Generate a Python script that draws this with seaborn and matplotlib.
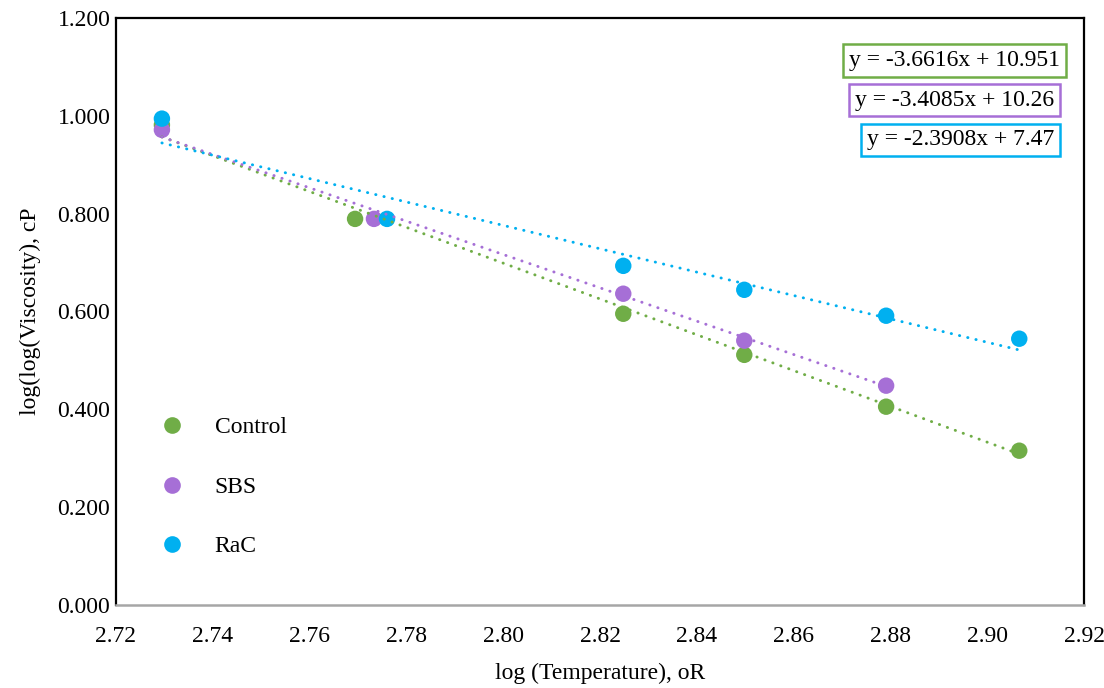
import numpy as np
import pandas as pd
import seaborn as sns
import matplotlib
matplotlib.use("Agg")
import matplotlib.pyplot as plt
from matplotlib.ticker import FormatStrFormatter, MultipleLocator

# Measured data: log10 of absolute temperature (°R) vs log(log(viscosity))
control_x = [2.7295, 2.7694, 2.8248, 2.8498, 2.8791, 2.9066]
control_y = [0.981, 0.789, 0.595, 0.511, 0.405, 0.315]

sbs_x = [2.7295, 2.7733, 2.8248, 2.8498, 2.8791]
sbs_y = [0.971, 0.789, 0.636, 0.540, 0.448]

rac_x = [2.7295, 2.7760, 2.8248, 2.8498, 2.8791, 2.9066]
rac_y = [0.994, 0.789, 0.693, 0.644, 0.591, 0.544]

series_names = ["Control", "SBS", "RaC"]
# Linear trendline coefficients (y = slope * x + intercept)
slopes = [-3.6616, -3.4085, -2.3908]
intercepts = [10.951, 10.26, 7.47]
equation_labels = ["y = -3.6616x + 10.951", "y = -3.4085x + 10.26", "y = -2.3908x + 7.47"]

colors = ["#70AD47", "#A66FD6", "#00B0F0"]

df = pd.concat([
    pd.DataFrame({"x": control_x, "y": control_y, "series": "Control"}),
    pd.DataFrame({"x": sbs_x, "y": sbs_y, "series": "SBS"}),
    pd.DataFrame({"x": rac_x, "y": rac_y, "series": "RaC"}),
], ignore_index=True)

sns.set_theme(style="white")
plt.rcParams["font.family"] = ["Liberation Serif", "DejaVu Serif"]
plt.rcParams["text.color"] = "black"
FS = 17

fig = plt.figure(figsize=(11.04, 6.88), dpi=100)
ax = fig.add_axes([0.105, 0.121, 0.877, 0.853])

sns.scatterplot(data=df, x="x", y="y", hue="series", hue_order=series_names,
                palette=colors, s=140, edgecolor="none", linewidth=0, ax=ax, zorder=3)

# Dotted linear trendlines over each series' range
xs_all = [control_x, sbs_x, rac_x]
for xs, m, b, c in zip(xs_all, slopes, intercepts, colors):
    xline = np.array([min(xs), max(xs)])
    ax.plot(xline, m * xline + b, color=c, lw=2.1, linestyle=(0, (0.1, 2.8)),
            dash_capstyle="round", zorder=4)

ax.set_xlim(2.72, 2.92)
ax.set_ylim(0.0, 1.2)
ax.xaxis.set_major_locator(MultipleLocator(0.02))
ax.yaxis.set_major_locator(MultipleLocator(0.2))
ax.xaxis.set_major_formatter(FormatStrFormatter("%.2f"))
ax.yaxis.set_major_formatter(FormatStrFormatter("%.3f"))
ax.tick_params(axis="both", length=0, labelsize=FS, colors="black")
ax.tick_params(axis="x", pad=15)
ax.tick_params(axis="y", pad=4)
ax.set_xlabel("log (Temperature), oR", fontsize=FS, color="black", labelpad=12)
ax.set_ylabel("log(log(Viscosity), cP", fontsize=FS, color="black", labelpad=12)
ax.grid(False)

for side in ["left", "right", "top"]:
    ax.spines[side].set_visible(True)
    ax.spines[side].set_color("black")
    ax.spines[side].set_linewidth(1.6)
ax.spines["bottom"].set_color("#A6A6A6")
ax.spines["bottom"].set_linewidth(1.8)

# Equation boxes
eq_y = [0.928, 0.860, 0.792]
eq_x = [0.975, 0.969, 0.969]
for lab, c, xx, yy in zip(equation_labels, colors, eq_x, eq_y):
    ax.text(xx, yy, lab, transform=ax.transAxes, ha="right", va="center",
            fontsize=FS, color="black",
            bbox=dict(boxstyle="square,pad=0.25", facecolor="white", edgecolor=c, linewidth=1.8),
            zorder=6)

leg = ax.legend(loc="lower left", bbox_to_anchor=(0.024, 0.045), frameon=False,
                fontsize=FS, handlelength=1.0, handletextpad=1.3, labelspacing=1.6,
                title=None, labelcolor="black")
for h in leg.legend_handles:
    h.set_markersize(12)

fig.savefig("out.png", dpi=100, facecolor="white")
